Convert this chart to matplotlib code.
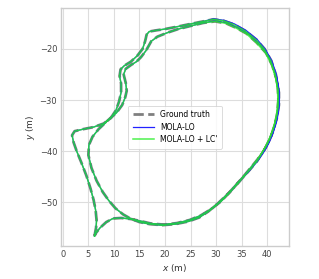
import matplotlib
matplotlib.use("Agg")
import matplotlib.pyplot as plt

# ground truth trajectory (m), two laps
gt_x = [6.2, 6.5, 6.6, 6.4, 6.0, 5.4, 4.6, 3.6, 2.7, 2.1, 1.8, 2.3, 4.0, 6.0, 8.0, 9.4, 10.4, 11.0, 11.4, 11.4,
        11.1, 11.3, 12.0, 13.3, 14.6, 15.6, 16.1, 16.4, 16.9, 18.0, 20.0, 22.6, 25.0, 27.5, 29.5, 31.5, 33.5, 35.8,
        37.9, 39.5, 40.8, 41.7, 42.1, 42.2, 42.0, 41.6, 40.8, 39.6, 38.0, 36.3, 34.5, 32.5, 30.3, 28.5, 26.7, 24.5,
        22.0, 19.5, 17.0, 15.0, 13.2, 11.8, 10.3, 9.0, 7.8, 6.6, 5.6, 5.0, 5.1, 5.8, 7.0, 8.8, 10.5, 11.6, 12.2,
        12.5, 12.3, 11.9, 12.3, 13.4, 14.4, 15.3, 16.3, 17.3, 18.5, 20.5, 22.6, 25.0, 27.5, 29.8, 32.0, 34.0, 36.0,
        38.0, 39.8, 41.0, 41.8, 42.3, 42.3, 41.9, 41.2, 40.2, 38.8, 37.0, 35.0, 33.0, 31.0, 29.0, 27.0, 24.8, 22.3,
        19.8, 17.3, 15.2, 13.3, 11.4, 9.8, 8.5, 7.3, 6.5, 6.2]
gt_y = [-56.6, -55.0, -53.5, -51.5, -49.5, -47.3, -44.8, -42.2, -40.0, -38.3, -36.9, -36.1, -35.7, -35.3, -34.6,
        -33.5, -32.0, -30.3, -28.5, -26.8, -25.3, -24.0, -23.3, -22.5, -21.3, -20.0, -18.5, -17.2, -16.6, -16.4,
        -16.1, -15.6, -15.1, -14.6, -14.2, -14.5, -15.2, -16.5, -18.2, -20.0, -22.3, -25.0, -27.5, -30.0, -32.5,
        -34.5, -37.0, -39.5, -42.0, -44.0, -46.0, -48.2, -50.3, -51.8, -53.0, -53.8, -54.3, -54.5, -54.3, -53.9,
        -53.2, -52.4, -51.2, -49.7, -48.0, -45.8, -43.3, -40.8, -38.8, -37.2, -35.7, -34.0, -32.5, -31.0, -29.5,
        -28.2, -26.6, -25.0, -23.9, -23.1, -22.5, -21.6, -20.3, -18.5, -17.6, -16.8, -16.1, -15.5, -14.9, -14.6,
        -15.0, -15.9, -17.0, -18.8, -20.8, -23.2, -25.8, -28.5, -31.0, -33.5, -36.0, -38.5, -40.8, -43.0, -45.4,
        -47.7, -49.8, -51.4, -52.6, -53.5, -54.1, -54.4, -54.2, -53.7, -53.3, -53.1, -53.2, -53.9, -55.0, -56.0,
        -56.6]

# MOLA-LO estimate
mola_x = [6.2, 6.5, 6.6, 6.4, 6.0, 5.4, 4.6, 3.6, 2.7, 2.1, 1.8, 2.3, 4.0, 6.0, 8.0, 9.4, 10.4, 11.0, 11.4, 11.4,
          11.1, 11.3, 12.0, 13.3, 14.6, 15.6, 16.1, 16.4, 16.9, 18.0, 20.0, 22.6, 25.0, 27.5, 29.5, 31.6, 33.6, 35.9,
          38.0, 39.6, 40.9, 41.8, 42.2, 42.3, 42.1, 41.7, 40.9, 39.7, 38.1, 36.4, 34.5, 32.5, 30.3, 28.5, 26.7, 24.5,
          22.0, 19.5, 17.0, 15.0, 13.2, 11.8, 10.3, 9.0, 7.8, 6.6, 5.6, 5.0, 5.1, 5.8, 7.0, 8.8, 10.5, 11.6, 12.2,
          12.5, 12.3, 11.9, 12.3, 13.4, 14.4, 15.3, 16.3, 17.3, 18.5, 20.5, 22.6, 25.0, 27.5, 29.8, 32.1, 34.1, 36.1,
          38.1, 39.9, 41.1, 41.9, 42.4, 42.4, 42.0, 41.3, 40.3, 38.9, 37.0, 35.0, 33.0, 31.0, 29.0, 27.0, 24.8, 22.3,
          19.8, 17.3, 15.2, 13.3, 11.4, 9.8, 8.5, 7.3, 6.5, 6.2]
mola_y = [-56.6, -55.0, -53.5, -51.5, -49.5, -47.3, -44.8, -42.2, -40.0, -38.3, -36.9, -36.1, -35.7, -35.3, -34.6,
          -33.5, -32.0, -30.3, -28.5, -26.8, -25.3, -24.0, -23.3, -22.5, -21.3, -20.0, -18.5, -17.2, -16.6, -16.4,
          -16.1, -15.6, -15.1, -14.6, -14.1, -14.4, -15.1, -16.4, -18.1, -20.0, -22.3, -25.0, -27.5, -30.0, -32.5,
          -34.5, -37.0, -39.5, -42.0, -44.0, -46.0, -48.2, -50.3, -51.8, -53.0, -53.8, -54.3, -54.5, -54.3, -53.9,
          -53.2, -52.4, -51.2, -49.7, -48.0, -45.8, -43.3, -40.8, -38.8, -37.2, -35.7, -34.0, -32.5, -31.0, -29.5,
          -28.2, -26.6, -25.0, -23.9, -23.1, -22.5, -21.6, -20.3, -18.5, -17.6, -16.8, -16.1, -15.5, -14.9, -14.5,
          -14.9, -15.8, -16.9, -18.7, -20.8, -23.2, -25.8, -28.5, -31.0, -33.5, -36.0, -38.5, -40.8, -43.0, -45.4,
          -47.7, -49.8, -51.4, -52.6, -53.5, -54.1, -54.4, -54.2, -53.7, -53.3, -53.1, -53.2, -53.9, -55.0, -56.0,
          -56.6]

# MOLA-LO + LC' estimate
lc_x = [6.2, 6.5, 6.6, 6.4, 6.0, 5.4, 4.6, 3.6, 2.7, 2.1, 1.8, 2.3, 4.0, 6.0, 8.0, 9.4, 10.4, 11.0, 11.4, 11.4,
        11.1, 11.3, 12.0, 13.3, 14.6, 15.6, 16.1, 16.4, 16.9, 18.0, 20.0, 22.6, 25.0, 27.5, 29.5, 31.5, 33.4, 35.7,
        37.8, 39.4, 40.7, 41.6, 42.0, 42.1, 41.9, 41.5, 40.7, 39.5, 38.0, 36.3, 34.5, 32.5, 30.3, 28.5, 26.7, 24.5,
        22.0, 19.5, 17.0, 15.0, 13.2, 11.8, 10.3, 9.0, 7.8, 6.6, 5.6, 5.0, 5.1, 5.8, 7.0, 8.8, 10.5, 11.6, 12.2,
        12.5, 12.3, 11.9, 12.3, 13.4, 14.4, 15.3, 16.3, 17.3, 18.5, 20.5, 22.6, 25.0, 27.5, 29.8, 32.0, 33.9, 35.9,
        37.9, 39.7, 40.9, 41.7, 42.2, 42.2, 41.8, 41.1, 40.1, 38.7, 37.0, 35.0, 33.0, 31.0, 29.0, 27.0, 24.8, 22.3,
        19.8, 17.3, 15.2, 13.3, 11.4, 9.8, 8.5, 7.3, 6.5, 6.2]
lc_y = [-56.6, -55.0, -53.5, -51.5, -49.5, -47.3, -44.8, -42.2, -40.0, -38.3, -36.9, -36.1, -35.7, -35.3, -34.6,
        -33.5, -32.0, -30.3, -28.5, -26.8, -25.3, -24.0, -23.3, -22.5, -21.3, -20.0, -18.5, -17.2, -16.6, -16.4,
        -16.1, -15.6, -15.1, -14.6, -14.2, -14.5, -15.2, -16.5, -18.2, -20.0, -22.3, -25.0, -27.5, -30.0, -32.5,
        -34.5, -37.0, -39.5, -42.0, -44.0, -46.0, -48.2, -50.3, -51.8, -53.0, -53.8, -54.3, -54.5, -54.3, -53.9,
        -53.2, -52.4, -51.2, -49.7, -48.0, -45.8, -43.3, -40.8, -38.8, -37.2, -35.7, -34.0, -32.5, -31.0, -29.5,
        -28.2, -26.6, -25.0, -23.9, -23.1, -22.5, -21.6, -20.3, -18.5, -17.6, -16.8, -16.1, -15.5, -14.9, -14.6,
        -15.0, -15.9, -17.0, -18.8, -20.8, -23.2, -25.8, -28.5, -31.0, -33.5, -36.0, -38.5, -40.8, -43.0, -45.4,
        -47.7, -49.8, -51.4, -52.6, -53.5, -54.1, -54.4, -54.2, -53.7, -53.3, -53.1, -53.2, -53.9, -55.0, -56.0,
        -56.6]

fig = plt.figure(figsize=(3.19, 2.79), dpi=100)
ax = fig.add_axes([0.191, 0.118, 0.715, 0.853])

ax.plot(gt_x, gt_y, color="dimgray", ls="--", lw=2.0, alpha=0.85, label="Ground truth")
ax.plot(mola_x, mola_y, color="#2222ff", lw=0.9, label="MOLA-LO")
ax.plot(lc_x, lc_y, color="#22ee22", lw=1.1, alpha=0.8, label="MOLA-LO + LC'")

ax.set_xlim(-0.3, 44.2)
ax.set_ylim(-58.6, -12.0)
ax.set_aspect("equal")
ax.set_xticks(range(0, 45, 5))
ax.set_yticks([-50, -40, -30, -20])
ax.grid(True, color="#dddddd", lw=0.8)
ax.set_axisbelow(True)
for s in ax.spines.values():
    s.set_color("#cccccc")
    s.set_linewidth(1.0)
ax.tick_params(length=0, labelsize=6, labelcolor="#444444", pad=3)
ax.set_xlabel("$x$ (m)", fontsize=6.5, color="#333333", labelpad=2)
ax.set_ylabel("$y$ (m)", fontsize=6.5, color="#333333", labelpad=2)

leg = ax.legend(loc="center", fontsize=5.5, frameon=True, handlelength=2.8, borderpad=0.6, labelspacing=0.45)
leg.get_frame().set_edgecolor("#cccccc")
leg.get_frame().set_linewidth(0.6)

fig.savefig("out.png", dpi=100)
